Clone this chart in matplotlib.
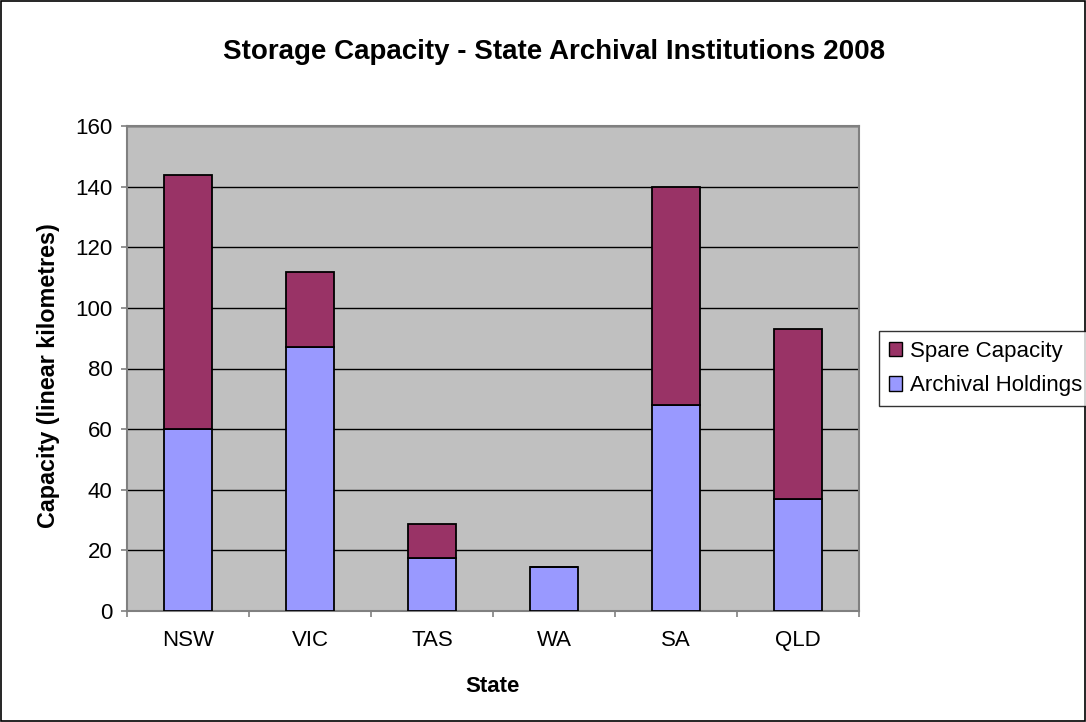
import matplotlib
matplotlib.use("Agg")
import matplotlib.pyplot as plt
from matplotlib.patches import Rectangle, Patch
import numpy as np

states = ["NSW", "VIC", "TAS", "WA", "SA", "QLD"]
archival = [60, 87, 17.5, 14.6, 68, 37]
spare = [84, 25, 11.3, 0, 72, 56]
yticks = [0, 20, 40, 60, 80, 100, 120, 140, 160]

plt.rcParams['font.family'] = ['Liberation Sans', 'DejaVu Sans']

W, H = 1086, 722
fig = plt.figure(figsize=(W/100, H/100), dpi=100)
ax = fig.add_axes([127/W, 1-611/H, (859-127)/W, (611-126)/H])
ax.set_facecolor("#C0C0C0")

x = np.arange(len(states))
ax.bar(x, archival, width=0.4, color="#9999FF", edgecolor="black", linewidth=1.3, zorder=3)
ax.bar(x, spare, width=0.4, bottom=archival, color="#993366", edgecolor="black", linewidth=1.3, zorder=3)

ax.set_xlim(-0.5, len(states)-0.5)
ax.set_ylim(0, 160)
ax.set_yticks(yticks)
ax.set_yticklabels([str(v) for v in yticks], fontsize=16)
ax.yaxis.grid(True, color="black", linewidth=1.0, zorder=1)
ax.set_axisbelow(True)
ax.set_xticks(x)
ax.set_xticklabels(states, fontsize=16)
ax.tick_params(axis='x', which='major', length=0, pad=14)
ax.set_xticks(np.arange(-0.5, len(states)), minor=True)
ax.tick_params(axis='x', which='minor', length=4.5, direction='out', color='#808080', width=1.2)
ax.tick_params(axis='y', length=4.5, direction='out', color='#808080', width=1.2, pad=6)
for s in ax.spines.values():
    s.set_color('#808080')
    s.set_linewidth(1.5)

fig.text(554/W, 1-52/H, "Storage Capacity - State Archival Institutions 2008",
         ha='center', va='center', fontsize=20, fontweight='bold')
fig.text(493/W, 1-686/H, "State", ha='center', va='center', fontsize=16, fontweight='bold')
fig.text(49/W, 1-376/H, "Capacity (linear kilometres)", ha='center', va='center',
         rotation=90, fontsize=16.8, fontweight='bold')

handles = [Patch(facecolor="#993366", edgecolor="black"), Patch(facecolor="#9999FF", edgecolor="black")]
leg = fig.legend(handles, ["Spare Capacity", "Archival Holdings"], loc='upper left',
                 bbox_to_anchor=(879/W, 1-331/H), fontsize=16, frameon=True, fancybox=False,
                 edgecolor='black', handlelength=0.6, handleheight=0.6, handletextpad=0.35,
                 borderpad=0.45, labelspacing=0.6, borderaxespad=0)
leg.get_frame().set_linewidth(1.0)

fig.patches.append(Rectangle((0.0005, 0.0007), 0.999, 0.9986, transform=fig.transFigure,
                             fill=False, edgecolor='black', linewidth=1.2))

fig.savefig("out.png", dpi=100)
